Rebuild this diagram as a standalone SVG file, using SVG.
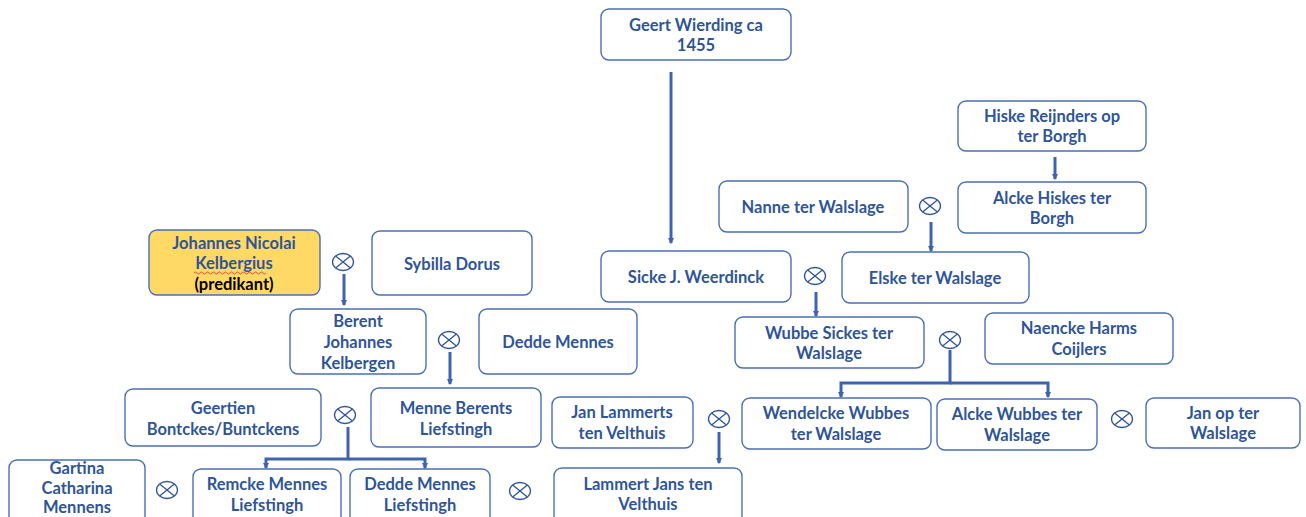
<svg xmlns="http://www.w3.org/2000/svg" width="1306" height="517" viewBox="0 0 1306 517">
<style>
.n{fill:#fff;stroke:#4A6FB5;stroke-width:1.4}
.g{fill:#FFD966;stroke:#4A6FB5;stroke-width:1.4}
text{font-family:Lato,"Open Sans","Liberation Sans",sans-serif;font-weight:bold;font-size:16.5px;fill:#2F5597;text-anchor:middle;dominant-baseline:central}
.k{fill:#000}
.c{stroke:#3F63AD;stroke-width:3;fill:none}
.m ellipse{fill:#fff;stroke:#2F5597;stroke-width:1.3}
.m path{stroke:#2F5597;stroke-width:1.3}
</style>
<defs>
<marker id="a" viewBox="0 0 6 6" refX="5" refY="3" markerWidth="2.2" markerHeight="2.2" orient="auto"><path d="M0,0L6,3L0,6Z" fill="#3F63AD"/></marker>
<g id="x" class="m"><ellipse rx="10.5" ry="8.5" cx="0" cy="0"/><path d="M-7.4,-6L7.4,6M-7.4,6L7.4,-6"/></g>
</defs>
<g id="connectors">
<path class="c" d="M671,72V243" marker-end="url(#a)"/>
<path class="c" d="M1055,157V179" marker-end="url(#a)"/>
<path class="c" d="M931,222V251" marker-end="url(#a)"/>
<path class="c" d="M816,292V316" marker-end="url(#a)"/>
<path class="c" d="M950,350V383H841V397" marker-end="url(#a)"/>
<path class="c" d="M950,383H1048V397" marker-end="url(#a)"/>
<path class="c" d="M344,274V305" marker-end="url(#a)"/>
<path class="c" d="M450,352V384" marker-end="url(#a)"/>
<path class="c" d="M348,427V459H266V468" marker-end="url(#a)"/>
<path class="c" d="M348,459H425V468" marker-end="url(#a)"/>
<path class="c" d="M719,432V463" marker-end="url(#a)"/>
</g>
<g id="marriages">
<use href="#x" x="930" y="206"/>
<use href="#x" x="815" y="276"/>
<use href="#x" x="950" y="340"/>
<use href="#x" x="1122" y="419"/>
<use href="#x" x="719" y="419"/>
<use href="#x" x="343" y="262"/>
<use href="#x" x="449" y="340"/>
<use href="#x" x="345" y="415"/>
<use href="#x" x="520" y="491"/>
<use href="#x" x="167" y="490"/>
</g>
<g id="geert"><rect class="n" x="601" y="9" width="190" height="51" rx="8"/><text x="696" y="25">Geert Wierding ca</text><text x="696" y="45">1455</text></g>
<g id="hiske"><rect class="n" x="958" y="101" width="188" height="50" rx="8"/><text x="1052" y="116">Hiske Reijnders op</text><text x="1052" y="136">ter Borgh</text></g>
<g id="nanne"><rect class="n" x="719" y="181" width="189" height="51" rx="8"/><text x="813" y="207">Nanne ter Walslage</text></g>
<g id="alcke-hiskes"><rect class="n" x="958" y="182" width="188" height="51" rx="8"/><text x="1052" y="198">Alcke Hiskes ter</text><text x="1052" y="218">Borgh</text></g>
<g id="sicke"><rect class="n" x="601" y="251" width="190" height="51" rx="8"/><text x="696" y="277">Sicke J. Weerdinck</text></g>
<g id="elske"><rect class="n" x="842" y="252" width="187" height="51" rx="8"/><text x="935" y="278">Elske ter Walslage</text></g>
<g id="wubbe"><rect class="n" x="735" y="317" width="189" height="51" rx="8"/><text x="829" y="333">Wubbe Sickes ter</text><text x="829" y="353">Walslage</text></g>
<g id="naencke"><rect class="n" x="985" y="313" width="188" height="51" rx="8"/><text x="1079" y="328">Naencke Harms</text><text x="1079" y="349">Coijlers</text></g>
<g id="wendelcke"><rect class="n" x="742" y="398" width="189" height="51" rx="8"/><text x="836" y="413">Wendelcke Wubbes</text><text x="836" y="434">ter Walslage</text></g>
<g id="alcke-wubbes"><rect class="n" x="937" y="399" width="160" height="51" rx="8"/><text x="1017" y="414">Alcke Wubbes ter</text><text x="1017" y="435">Walslage</text></g>
<g id="jan-op"><rect class="n" x="1146" y="398" width="154" height="50" rx="8"/><text x="1223" y="413">Jan op ter</text><text x="1223" y="433">Walslage</text></g>
<g id="jan-lammerts"><rect class="n" x="552" y="397" width="141" height="51" rx="8"/><text x="622" y="412">Jan Lammerts</text><text x="622" y="433">ten Velthuis</text></g>
<g id="lammert-jans"><rect class="n" x="554" y="468" width="188" height="60" rx="8"/><text x="648" y="484">Lammert Jans ten</text><text x="648" y="504">Velthuis</text></g>
<g id="johannes"><rect class="g" x="149" y="230" width="171" height="65" rx="8"/><text x="234" y="243">Johannes Nicolai</text><text x="234" y="263">Kelbergius</text><text class="k" x="234" y="284">(predikant)</text><path d="M194,273q1.5,-2 3,0t3,0t3,0t3,0t3,0t3,0t3,0t3,0t3,0t3,0t3,0t3,0t3,0t3,0t3,0t3,0t3,0t3,0t3,0t3,0t3,0t3,0t3,0t3,0" fill="none" stroke="#E04040" stroke-width="0.9"/></g>
<g id="sybilla"><rect class="n" x="372" y="231" width="160" height="64" rx="8"/><text x="452" y="264">Sybilla Dorus</text></g>
<g id="berent"><rect class="n" x="290" y="309" width="136" height="65" rx="8"/><text x="358" y="321">Berent</text><text x="358" y="342">Johannes</text><text x="358" y="363">Kelbergen</text></g>
<g id="dedde-mennes"><rect class="n" x="479" y="309" width="158" height="65" rx="8"/><text x="558" y="342">Dedde Mennes</text></g>
<g id="menne"><rect class="n" x="371" y="388" width="170" height="59" rx="8"/><text x="456" y="408">Menne Berents</text><text x="456" y="429">Liefstingh</text></g>
<g id="geertien"><rect class="n" x="125" y="389" width="196" height="57" rx="8"/><text x="223" y="408">Geertien</text><text x="223" y="429">Bontckes/Buntckens</text></g>
<g id="remcke"><rect class="n" x="193" y="469" width="148" height="60" rx="8"/><text x="267" y="484">Remcke Mennes</text><text x="267" y="505">Liefstingh</text></g>
<g id="dedde-liefstingh"><rect class="n" x="350" y="469" width="140" height="60" rx="8"/><text x="420" y="484">Dedde Mennes</text><text x="420" y="505">Liefstingh</text></g>
<g id="gartina"><rect class="n" x="9" y="460" width="136" height="70" rx="8"/><text x="77" y="468">Gartina</text><text x="77" y="488">Catharina</text><text x="77" y="507">Mennens</text></g>
</svg>
